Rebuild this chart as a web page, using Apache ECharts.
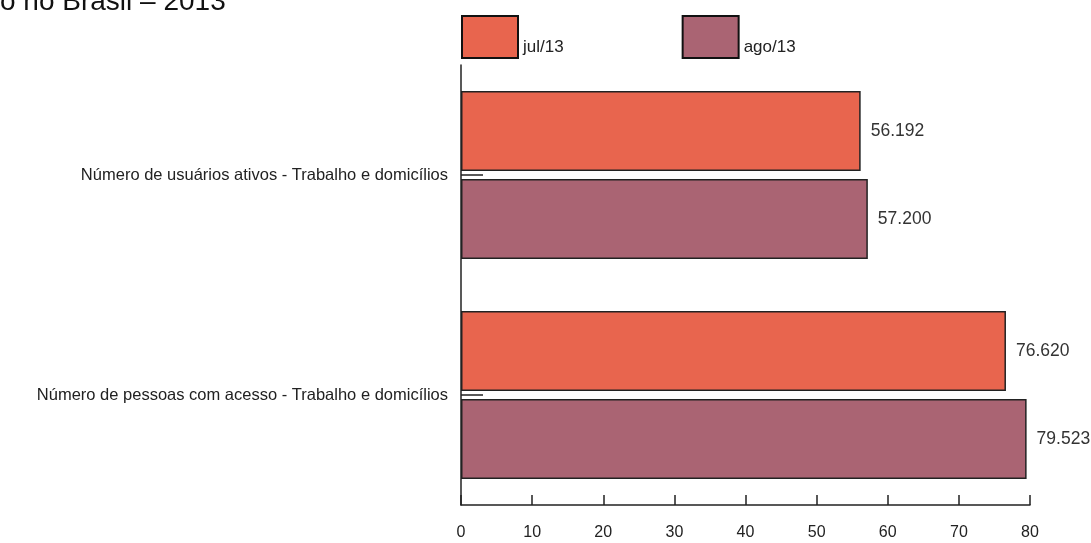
<!DOCTYPE html>
<html>
<head>
<meta charset="utf-8">
<script src="https://cdn.jsdelivr.net/npm/echarts@6/dist/echarts.min.js"></script>
<style>
html, body { margin: 0; padding: 0; background: #fff; }
#main { width: 1091px; height: 543px; }
</style>
</head>
<body>
<div id="main"></div>
<script>
// dados
var categorias = ['Número de usuários ativos - Trabalho e domicílios', 'Número de pessoas com acesso - Trabalho e domicílios'];
var jul13 = [56.192, 76.620];
var ago13 = [57.200, 79.523];
var ticksX = [0, 10, 20, 30, 40, 50, 60, 70, 80];

var fonte = 'Liberation Sans, Arial, sans-serif';
var myChart = echarts.init(document.getElementById('main'));

function rotulo(p) {
    return p.value.toFixed(3);
}

option = {
    animation: false,
    backgroundColor: '#fff',
    title: {
        text: 'o no Brasil – 2013',
        left: -5,
        top: -17,
        textStyle: { fontFamily: fonte, fontSize: 28, fontWeight: 'normal', color: '#111' }
    },
    legend: {
        left: 461,
        top: 15,
        padding: 0,
        icon: 'rect',
        itemWidth: 56,
        itemHeight: 42,
        itemGap: 118,
        data: ['jul/13', 'ago/13'],
        itemStyle: { borderColor: '#111', borderWidth: 2 },
        formatter: '{a|{name}}',
        textStyle: {
            fontFamily: fonte, fontSize: 17, color: '#222',
            rich: { a: { fontFamily: fonte, fontSize: 17, color: '#222', padding: [20, 0, 0, 0] } }
        }
    },
    grid: { left: 461, right: 61, top: 65, bottom: 38 },
    xAxis: {
        type: 'value',
        min: ticksX[0],
        max: ticksX[ticksX.length - 1],
        interval: 10,
        splitLine: { show: false },
        axisLine: { show: true, lineStyle: { color: '#222', width: 1.5 } },
        axisTick: { show: true, inside: true, length: 10, lineStyle: { color: '#222', width: 1.5 } },
        axisLabel: { margin: 20, fontFamily: fonte, fontSize: 16, color: '#222' }
    },
    yAxis: {
        type: 'category',
        inverse: true,
        data: categorias,
        axisLine: { show: true, lineStyle: { color: '#222', width: 1.5 } },
        axisTick: { show: true, inside: true, alignWithLabel: true, length: 22, lineStyle: { color: '#222', width: 1.5 } },
        axisLabel: { margin: 13, fontFamily: fonte, fontSize: 16.5, color: '#222' }
    },
    series: [
        {
            name: 'jul/13',
            type: 'bar',
            data: jul13,
            barWidth: 80,
            barGap: '10%',
            itemStyle: { color: '#E8654E', borderColor: '#222', borderWidth: 1.5 },
            label: { show: true, position: 'right', distance: 10, formatter: rotulo, fontFamily: fonte, fontSize: 17.5, color: '#333' }
        },
        {
            name: 'ago/13',
            type: 'bar',
            data: ago13,
            barWidth: 80,
            barGap: '10%',
            itemStyle: { color: '#AA6473', borderColor: '#222', borderWidth: 1.5 },
            label: { show: true, position: 'right', distance: 10, formatter: rotulo, fontFamily: fonte, fontSize: 17.5, color: '#333' }
        }
    ]
};

myChart.setOption(option);
</script>
</body>
</html>
